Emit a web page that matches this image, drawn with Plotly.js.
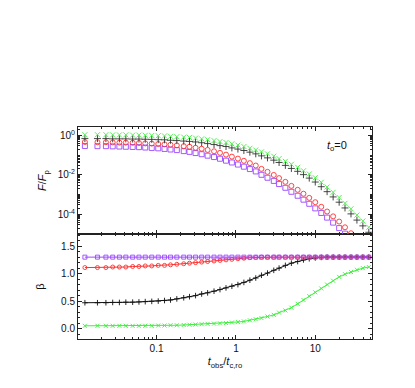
<!DOCTYPE html>
<html><head><meta charset="utf-8">
<script src="https://cdn.plot.ly/plotly-3.0.1.min.js"></script>
<style>html,body{margin:0;padding:0;background:#fff}#c{width:415px;height:388px}</style>
</head><body><div id="c"></div>
<script>
// time grid t_obs / t_c,ro
const tObs = [0.0125,0.018,0.023,0.028,0.034,0.041,0.05,0.06,0.072,0.087,0.105,0.126,0.15,0.18,0.22,0.26,0.31,0.37,0.44,0.53,0.63,0.75,0.89,1.06,1.26,1.5,1.78,2.1,2.5,3.0,3.5,4.2,5.0,6.0,7.1,8.4,10,11.9,14.1,16.8,20,23.7,28.2,33.5,39.8,47.3];

// F/Fp (top panel)
const fGreen = [1.07,1.07,1.07,1.05,1.05,1.05,1.02,1.02,1.0,0.98,0.955,0.93,0.89,0.85,0.81,0.78,0.72,0.66,0.60,0.54,0.48,0.43,0.37,0.32,0.27,0.22,0.18,0.145,0.115,0.087,0.066,0.048,0.034,0.024,0.016,0.011,0.0071,0.0042,0.0024,0.0013,7.1e-4,3.6e-4,1.9e-4,9.1e-5,4.6e-5,2.2e-5];
const fBlack = [0.68,0.68,0.68,0.66,0.66,0.66,0.645,0.645,0.63,0.62,0.60,0.59,0.56,0.54,0.51,0.49,0.46,0.42,0.38,0.34,0.30,0.27,0.23,0.20,0.17,0.14,0.115,0.091,0.072,0.055,0.042,0.030,0.021,0.015,0.0102,0.0068,0.0043,0.0025,0.0014,7.6e-4,4.1e-4,2.1e-4,1.05e-4,5.1e-5,2.6e-5,1.23e-5];
const fRed = [0.457,0.447,0.447,0.437,0.427,0.427,0.417,0.407,0.389,0.380,0.363,0.347,0.331,0.309,0.282,0.263,0.234,0.209,0.182,0.155,0.129,0.105,0.083,0.066,0.051,0.039,0.0295,0.020,0.0141,0.0098,0.0068,0.0044,0.00275,0.00174,0.0011,6.8e-4,4.1e-4,2.4e-4,1.38e-4,7.9e-5,4.3e-5,2.2e-5,1.1e-5,5.4e-6];
const fPurple = [0.288,0.282,0.282,0.275,0.269,0.263,0.257,0.251,0.240,0.229,0.219,0.204,0.191,0.178,0.158,0.145,0.126,0.110,0.093,0.079,0.065,0.052,0.042,0.033,0.0257,0.0195,0.0148,0.0100,0.0071,0.0049,0.0034,0.0022,0.00138,8.7e-4,5.5e-4,3.4e-4,2.0e-4,1.17e-4,6.8e-5,3.8e-5,2.0e-5,1.05e-5,5.2e-6];

// beta (bottom panel)
const bPurple = [1.30,1.30,1.30,1.30,1.30,1.30,1.30,1.30,1.30,1.30,1.30,1.30,1.30,1.30,1.30,1.30,1.30,1.30,1.30,1.30,1.30,1.30,1.30,1.30,1.30,1.30,1.30,1.30,1.30,1.30,1.30,1.30,1.30,1.30,1.30,1.30,1.30,1.30,1.30,1.30,1.30,1.30,1.30,1.30,1.30,1.30];
const bRed = [1.11,1.11,1.11,1.12,1.12,1.12,1.13,1.13,1.14,1.14,1.15,1.15,1.16,1.17,1.18,1.19,1.20,1.21,1.22,1.23,1.24,1.25,1.26,1.27,1.28,1.29,1.295,1.30,1.30,1.30,1.30,1.30,1.30,1.30,1.30,1.30,1.30,1.30,1.30,1.30,1.30,1.30,1.30,1.30,1.30,1.30];
const bBlack = [0.47,0.47,0.47,0.475,0.475,0.48,0.48,0.485,0.49,0.495,0.50,0.51,0.52,0.54,0.56,0.58,0.60,0.63,0.65,0.68,0.71,0.74,0.77,0.80,0.84,0.88,0.92,0.97,1.01,1.06,1.10,1.15,1.19,1.22,1.25,1.27,1.285,1.295,1.30,1.30,1.30,1.30,1.30,1.30,1.30,1.30];
const bGreen = [0.05,0.05,0.05,0.05,0.05,0.05,0.05,0.05,0.05,0.05,0.055,0.055,0.06,0.06,0.065,0.07,0.075,0.08,0.085,0.09,0.095,0.10,0.11,0.12,0.13,0.15,0.17,0.19,0.22,0.25,0.29,0.33,0.38,0.45,0.52,0.59,0.66,0.73,0.80,0.87,0.94,0.99,1.03,1.07,1.10,1.12];

const xTickVals = [0.1, 1, 10];
const xTickText = ['0.1', '1', '10'];
const fTickVals = [1, 0.01, 0.0001];
const fTickText = ['10<sup>0</sup>', '10<sup>-2</sup>', '10<sup>-4</sup>'];
const bTickVals = [0, 0.5, 1.0, 1.5];
const bTickText = ['0.0', '0.5', '1.0', '1.5'];

const C = {green:'#3cf03c', black:'#111111', red:'#ff3030', purple:'#9b45ff'};

// minor tick positions (axis decoration only)
const xMinor = [];
for (let e = -2; e <= 1; e++) for (let m = 2; m <= 9; m++) xMinor.push(m * Math.pow(10, e));
const fMinor = [];
for (let e = -6; e <= 0; e++) for (let m = 1; m <= 9; m++) fMinor.push(m * Math.pow(10, e));

const mk = (sym, col, size) => ({symbol: sym, color: col, size: size, line: {color: col, width: 0.9}});

const data = [
  {x: tObs.slice(0, fPurple.length), y: fPurple, xaxis:'x2', yaxis:'y2', mode:'markers', marker: mk('square-open', C.purple, 5)},
  {x: tObs.slice(0, fRed.length), y: fRed, xaxis:'x2', yaxis:'y2', mode:'markers', marker: mk('circle-open', C.red, 5)},
  {x: tObs, y: fBlack, xaxis:'x2', yaxis:'y2', mode:'markers', marker: mk('cross-thin-open', '#333', 5)},
  {x: tObs, y: fGreen, xaxis:'x2', yaxis:'y2', mode:'markers', marker: mk('x-thin-open', C.green, 5)},
  {x: tObs, y: bGreen, xaxis:'x', yaxis:'y', mode:'lines+markers', line:{color:C.green, width:1}, marker: mk('x-thin-open', C.green, 4)},
  {x: tObs, y: bBlack, xaxis:'x', yaxis:'y', mode:'lines+markers', line:{color:C.black, width:1}, marker: mk('cross-thin-open', C.black, 4)},
  {x: tObs, y: bRed, xaxis:'x', yaxis:'y', mode:'lines+markers', line:{color:C.red, width:1}, marker: mk('circle-open', C.red, 4)},
  {x: tObs, y: bPurple, xaxis:'x', yaxis:'y', mode:'lines+markers', line:{color:C.purple, width:1}, marker: mk('square-open', C.purple, 4)}
];

const font = {family: 'Liberation Sans, Arial, sans-serif', size: 10, color: '#111'};
const axBase = {showline:true, linecolor:'#222', linewidth:1, mirror:'allticks', ticks:'inside', ticklen:4, tickcolor:'#222', showgrid:false, zeroline:false};
const xRange = [-1.99, 1.715];

const layout = {
  width: 415, height: 388,
  margin: {l:78, r:43, t:127, b:49},
  paper_bgcolor:'#fff', plot_bgcolor:'#fff',
  font: font, showlegend:false,
  xaxis: Object.assign({}, axBase, {type:'log', range:xRange, anchor:'y', tickmode:'array', tickvals:xTickVals, ticktext:xTickText,
    minor:{tickmode:'array', tickvals:xMinor, ticks:'inside', ticklen:2, tickcolor:'#222'},
    title:{text:'<i>t</i><sub>obs</sub>/<i>t</i><sub>c,ro</sub>', font:{size:11}, standoff:4}}),
  xaxis2: Object.assign({}, axBase, {type:'log', range:xRange, anchor:'y2', matches:'x', showticklabels:false, tickmode:'array', tickvals:xTickVals,
    minor:{tickmode:'array', tickvals:xMinor, ticks:'inside', ticklen:2, tickcolor:'#222'}}),
  yaxis: Object.assign({}, axBase, {domain:[0, 0.495], range:[-0.19, 1.72], anchor:'x', tickmode:'array', tickvals:bTickVals, ticktext:bTickText,
    minor:{dtick:0.1, ticks:'inside', ticklen:2, tickcolor:'#222'},
    title:{text:'β', font:{size:11}, standoff:14}}),
  yaxis2: Object.assign({}, axBase, {domain:[0.495, 1], type:'log', range:[-5.0, 0.42], anchor:'x2', tickmode:'array', tickvals:fTickVals, ticktext:fTickText,
    minor:{tickmode:'array', tickvals:fMinor, ticks:'inside', ticklen:2, tickcolor:'#222'},
    title:{text:'<i>F</i>/<i>F</i><sub>p</sub>', font:{size:11}, standoff:8}}),
  annotations: [
    {xref:'paper', yref:'paper', x:0.84, y:0.955, xanchor:'left', yanchor:'top', showarrow:false,
     text:'<i>t</i><sub>o</sub>=0', font:{size:11, color:'#111'}}
  ]
};

Plotly.newPlot('c', data, layout, {staticPlot:true, displayModeBar:false});
</script>
</body></html>
